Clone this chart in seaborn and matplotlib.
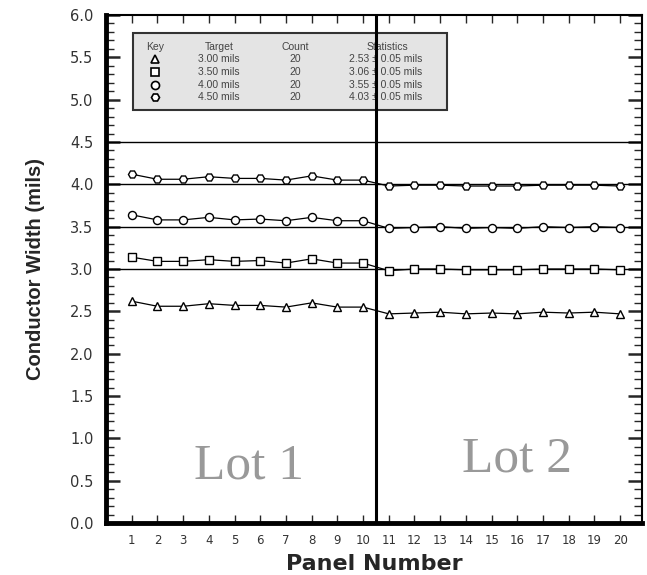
import matplotlib
matplotlib.use("Agg")
import matplotlib.pyplot as plt
from matplotlib.ticker import MultipleLocator, FormatStrFormatter
import seaborn as sns
import pandas as pd

panels = list(range(1, 21))
targets = ["3.00 mils", "3.50 mils", "4.00 mils", "4.50 mils"]
w300 = [2.62, 2.56, 2.56, 2.59, 2.57, 2.57, 2.55, 2.60, 2.55, 2.55,
        2.47, 2.48, 2.49, 2.47, 2.48, 2.47, 2.49, 2.48, 2.49, 2.47]
w350 = [3.14, 3.09, 3.09, 3.11, 3.09, 3.10, 3.07, 3.12, 3.07, 3.07,
        2.98, 3.00, 3.00, 2.99, 2.99, 2.99, 3.00, 3.00, 3.00, 2.99]
w400 = [3.64, 3.58, 3.58, 3.61, 3.58, 3.59, 3.57, 3.61, 3.57, 3.57,
        3.48, 3.49, 3.50, 3.48, 3.49, 3.48, 3.50, 3.49, 3.50, 3.49]
w450 = [4.12, 4.06, 4.06, 4.09, 4.07, 4.07, 4.05, 4.10, 4.05, 4.05,
        3.98, 3.99, 3.99, 3.98, 3.98, 3.98, 3.99, 3.99, 3.99, 3.98]
counts = ["20", "20", "20", "20"]
stats = ["2.53 \u00b1 0.05 mils", "3.06 \u00b1 0.05 mils",
         "3.55 \u00b1 0.05 mils", "4.03 \u00b1 0.05 mils"]
key_header = ["Key", "Target", "Count", "Statistics"]
ref_lines = [3.0, 3.5, 4.0, 4.5]
lot_split = 10.5
lot_labels = ["Lot 1", "Lot 2"]

sns.set_theme(style="white")
plt.rcParams["font.family"] = ["Liberation Sans", "DejaVu Sans"]

df = pd.DataFrame({
    "Panel": panels * 4,
    "Width": w300 + w350 + w400 + w450,
    "Target": sum([[t] * 20 for t in targets], []),
})

markers = dict(zip(targets, ["^", "s", "o", "H"]))
palette = dict(zip(targets, ["black"] * 4))

fig = plt.figure(figsize=(6.47, 5.75), dpi=100)
ax = fig.add_axes([106 / 647, 1 - 523 / 575, 536 / 647, 508 / 575])

for y in ref_lines:
    ax.axhline(y, color="black", lw=1.0, zorder=1)

sns.lineplot(data=df, x="Panel", y="Width", hue="Target", style="Target",
             markers=markers, dashes=False, palette=palette, legend=False,
             lw=0.9, markersize=5.8, markerfacecolor="white",
             markeredgecolor="black", markeredgewidth=1.0, ax=ax, zorder=3)

ax.axvline(lot_split, color="black", lw=2.2, zorder=7)

ax.set_xlim(0, 20.85)
ax.set_ylim(0, 6.0)
ax.set_xticks(panels)
ax.yaxis.set_major_locator(MultipleLocator(0.5))
ax.yaxis.set_minor_locator(MultipleLocator(0.1))
ax.yaxis.set_major_formatter(FormatStrFormatter("%.1f"))

ax.tick_params(axis="y", which="major", direction="in", length=10, width=1.8,
               left=True, right=True, labelsize=10.5, labelcolor="#333333", pad=9)
ax.tick_params(axis="y", which="minor", direction="in", length=6, width=1.0,
               left=True, right=True)
ax.tick_params(axis="x", which="major", direction="in", length=6, width=1.0,
               bottom=True, top=True, labelsize=8.5, labelcolor="#333333", pad=8)
for lab in ax.get_xticklabels() + ax.get_yticklabels():
    lab.set_family(["DejaVu Sans"])

for side, lw in [("left", 3.5), ("bottom", 3.5), ("top", 1.5), ("right", 1.5)]:
    ax.spines[side].set_linewidth(lw)
    ax.spines[side].set_color("black")
    ax.spines[side].set_visible(True)

ax.set_xlabel("Panel Number", fontsize=16, fontweight="bold", labelpad=5,
              family=["DejaVu Sans"])
ax.set_ylabel("Conductor Width (mils)", fontsize=14.5, fontweight="bold", labelpad=18)

# Lot annotations
serif = ["Liberation Serif", "DejaVu Serif"]
ax.text(5.55, 0.53, lot_labels[0], fontsize=37, color="#999999",
        family=serif, ha="center", va="baseline")
ax.text(16.0, 0.61, lot_labels[1], fontsize=37, color="#999999",
        family=serif, ha="center", va="baseline")

# Key box (placed in axes fraction)
def ax_x(px):
    return (px - 106) / 536

def ax_y(py):
    return (523 - py) / 508

box = plt.Rectangle((ax_x(133), ax_y(110)), ax_x(447) - ax_x(133), ax_y(33) - ax_y(110),
                    transform=ax.transAxes, facecolor="#e4e4e4", edgecolor="#333333",
                    lw=1.5, zorder=4)
ax.add_patch(box)
fs = 7.5
tc = "#444444"
hy = ax_y(47)
for xpx, txt in zip([155, 219, 295, 387], key_header):
    ax.text(ax_x(xpx), hy, txt, transform=ax.transAxes, fontsize=fs,
            ha="center", va="center", color=tc, zorder=6)
row_y = [59, 72, 85, 97]
for i, t in enumerate(targets):
    yy = ax_y(row_y[i])
    ax.plot([ax_x(155)], [yy], marker=markers[t], transform=ax.transAxes, ms=5.8,
            mfc="white", mec="black", mew=1.2, linestyle="none", zorder=6, clip_on=False)
    ax.text(ax_x(219), yy, t, transform=ax.transAxes, fontsize=fs, ha="center", va="center", color=tc, zorder=6)
    ax.text(ax_x(295), yy, counts[i], transform=ax.transAxes, fontsize=fs, ha="center", va="center", color=tc, zorder=6)
    ax.text(ax_x(349), yy, stats[i], transform=ax.transAxes, fontsize=fs, ha="left", va="center", color=tc, zorder=6)

fig.savefig("out.png", dpi=100)
